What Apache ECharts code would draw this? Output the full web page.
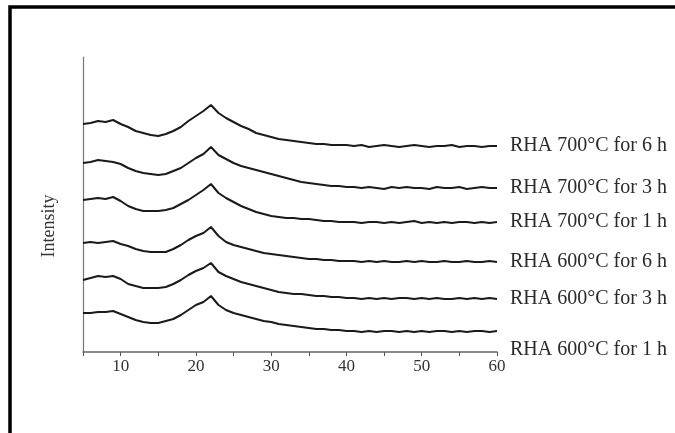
<!DOCTYPE html>
<html><head><meta charset="utf-8">
<script src="https://cdn.jsdelivr.net/npm/echarts@6/dist/echarts.min.js"></script>
<style>html,body{margin:0;padding:0;background:#fff}#c{width:675px;height:433px}</style>
</head><body><div id="c"></div>
<script>
const twoTheta = [5,6,7,8,9,10,11,12,13,14,15,16,17,18,19,20,21,22,23,24,25,26,27,28,29,30,31,32,33,34,35,36,37,38,39,40,41,42,43,44,45,46,47,48,49,50,51,52,53,54,55,56,57,58,59,60];
const seriesNames = ['RHA 700°C for 6 h','RHA 700°C for 3 h','RHA 700°C for 1 h','RHA 600°C for 6 h','RHA 600°C for 3 h','RHA 600°C for 1 h'];
const rha700_6h = [228,229,231,230,232,228,225,221,219,217,216,218,221,225,231,236,241,247,239,234,230,226,223,219,217,215,213,212,211,210,209,208,208,207,207,207,206,207,205,206,207,206,205,206,207,206,205,206,206,207,205,206,206,205,206,206];
const rha700_3h = [189,190,192,191,190,188,184,181,179,178,177,178,181,184,189,194,198,205,197,193,189,186,184,182,180,178,176,174,172,170,169,168,167,166,166,165,165,164,165,164,163,165,164,165,164,164,163,165,164,164,165,163,164,165,164,164];
const rha700_1h = [152,153,154,153,155,151,146,143,141,141,141,142,144,148,152,157,162,168,159,154,150,146,143,140,138,136,135,134,134,133,133,132,131,131,130,130,130,129,130,130,129,130,129,130,131,129,130,129,130,129,130,130,129,130,129,130];
const rha600_6h = [109,110,109,110,111,108,106,103,101,100,100,100,103,107,112,116,119,125,116,110,107,105,103,101,99,98,97,96,95,94,93,93,92,92,91,91,91,90,91,90,91,90,90,91,90,91,90,90,91,90,90,91,90,90,91,90];
const rha600_3h = [72,74,76,75,76,73,68,66,64,64,64,65,68,72,77,81,84,89,80,76,73,70,68,66,64,62,60,59,58,58,57,56,56,55,55,54,54,53,54,53,54,53,54,54,53,54,53,54,53,53,54,53,54,53,54,53];
const rha600_1h = [39,39,40,40,41,38,35,32,30,29,29,31,33,37,42,47,50,56,47,42,39,37,35,33,31,30,28,27,26,25,24,23,23,22,22,21,21,20,21,20,21,21,20,21,20,21,20,21,21,20,21,20,21,21,20,21];
const xTickLabels = ['10','20','30','40','50','60'];
const yTitle = 'Intensity';

const allValues = [rha700_6h,rha700_3h,rha700_1h,rha600_6h,rha600_3h,rha600_1h];
const serif = '"Liberation Serif","DejaVu Serif",serif';

const chart = echarts.init(document.getElementById('c'));
chart.setOption({
  animation: false,
  backgroundColor: '#fff',
  grid: {left: 83, right: 178, top: 57, bottom: 81},
  xAxis: {
    type: 'value', min: 5, max: 60, interval: 5,
    axisLine: {show: true, lineStyle: {color: '#666', width: 1.5}},
    axisTick: {show: true, length: 4, lineStyle: {color: '#555'}},
    splitLine: {show: false},
    axisLabel: {
      color: '#333', fontFamily: serif, fontSize: 17, margin: 6,
      formatter: v => xTickLabels.indexOf(String(v)) >= 0 ? String(v) : ''
    }
  },
  yAxis: {
    type: 'value', min: 0, max: 295,
    axisLine: {show: true, lineStyle: {color: '#777', width: 1.2}},
    axisTick: {show: false}, axisLabel: {show: false}, splitLine: {show: false}
  },
  graphic: [
    {type: 'rect', shape: {x: 10, y: 7, width: 720, height: 500}, style: {fill: 'none', stroke: '#000', lineWidth: 3.5}, z: 100},
    {type: 'text', x: 49, y: 226, rotation: Math.PI/2, style: {text: yTitle, fill: '#333', font: '18px ' + serif, textAlign: 'center', textVerticalAlign: 'middle'}}
  ],
  series: allValues.map((vals, i) => ({
    type: 'line', name: seriesNames[i],
    data: twoTheta.map((x, j) => [x, vals[j]]),
    showSymbol: false, symbol: 'none',
    lineStyle: {color: '#1a1a1a', width: 2},
    endLabel: {
      show: true, formatter: '{a}', distance: 13,
      color: '#2a2a2a', fontFamily: serif, fontSize: 20,
      offset: i === 5 ? [0, 19] : [0, 0]
    }
  }))
});
</script></body></html>
